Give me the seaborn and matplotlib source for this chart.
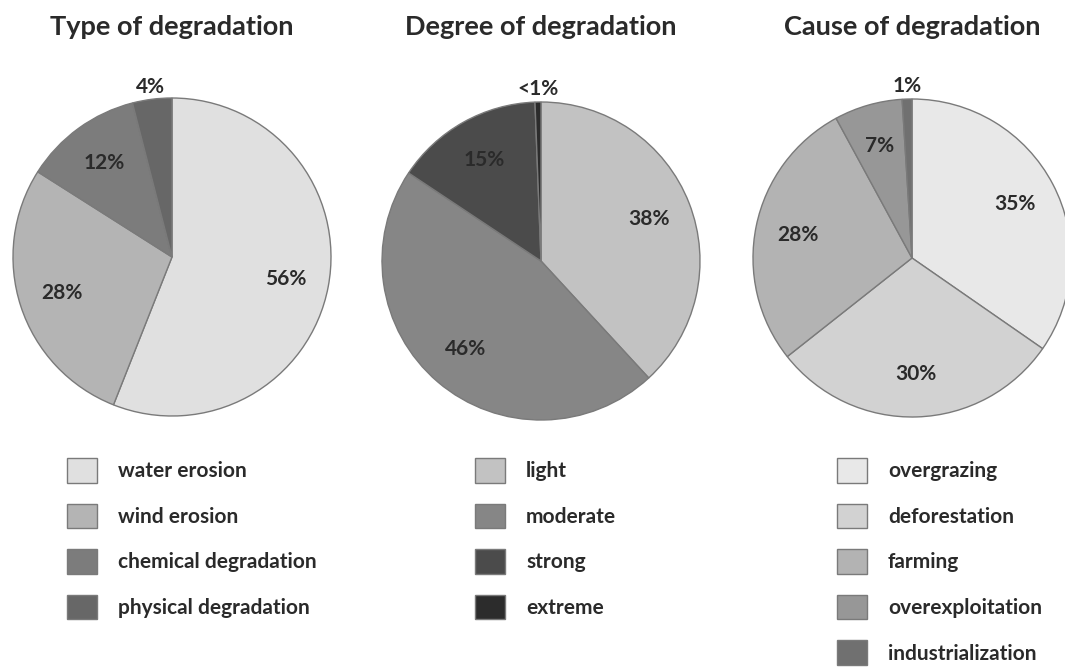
import numpy as np
import matplotlib
matplotlib.use("Agg")
import matplotlib.pyplot as plt
import seaborn as sns

sns.set_style("white")
plt.rcParams['font.family'] = ['Lato', 'DejaVu Sans']

# datos de cada torta
titulos = ["Type of degradation", "Degree of degradation", "Cause of degradation"]

tipo_labels = ["water erosion", "wind erosion", "chemical degradation", "physical degradation"]
tipo_valores = [56, 28, 12, 4]
tipo_textos = ["56%", "28%", "12%", "4%"]
tipo_colores = ["#e0e0e0", "#b4b4b4", "#7c7c7c", "#676767"]

grado_labels = ["light", "moderate", "strong", "extreme"]
grado_valores = [38, 46, 15, 0.6]
grado_textos = ["38%", "46%", "15%", "<1%"]
grado_colores = ["#c2c2c2", "#868686", "#4b4b4b", "#2c2c2c"]

causa_labels = ["overgrazing", "deforestation", "farming", "overexploitation", "industrialization"]
causa_valores = [35, 30, 28, 7, 1]
causa_textos = ["35%", "30%", "28%", "7%", "1%"]
causa_colores = ["#e8e8e8", "#d2d2d2", "#b3b3b3", "#979797", "#707070"]

datos = [
    (tipo_labels, tipo_valores, tipo_textos, tipo_colores),
    (grado_labels, grado_valores, grado_textos, grado_colores),
    (causa_labels, causa_valores, causa_textos, causa_colores),
]

W, H = 1065, 667
fig = plt.figure(figsize=(W / 100, H / 100), dpi=100)

centros = [(172, 257), (541, 261), (912, 258)]
radio = 159
leyenda_pos = [(67, 458), (475, 458), (837, 458)]
texto_col = "#2a2a2a"

for i, (labels, valores, textos, colores) in enumerate(datos):
    cx, cy = centros[i]
    ax = fig.add_axes([(cx - radio) / W, 1 - (cy + radio) / H, 2 * radio / W, 2 * radio / H])
    wedges, _ = ax.pie(valores, colors=colores, startangle=90, counterclock=False,
                       wedgeprops=dict(edgecolor="#7a7a7a", linewidth=1.0))
    ax.set_xlim(-1, 1)
    ax.set_ylim(-1, 1)
    ax.set_aspect("equal")
    ax.axis("off")

    # etiquetas de porcentaje (las chicas van afuera)
    total = sum(valores)
    for w, v, t in zip(wedges, valores, textos):
        ang = np.deg2rad((w.theta1 + w.theta2) / 2)
        r = 1.08 if v / total < 0.05 else 0.73
        ax.text(r * np.cos(ang), r * np.sin(ang), t, ha="center", va="center",
                fontsize=15, fontweight="bold", color=texto_col)

    lx, ly = leyenda_pos[i]
    ax.legend(wedges, labels, loc="upper left", bbox_to_anchor=(lx / W, 1 - ly / H),
              bbox_transform=fig.transFigure, frameon=False,
              handlelength=1.45, handleheight=1.45, handletextpad=1.0,
              labelspacing=1.0, borderpad=0, borderaxespad=0,
              prop=dict(size=15, weight="bold"), labelcolor=texto_col)

    fig.text(cx / W, 1 - 35 / H, titulos[i], ha="center", va="baseline",
             fontsize=19.5, fontweight="bold", color=texto_col)

fig.savefig("out.png", dpi=100, facecolor="white")
